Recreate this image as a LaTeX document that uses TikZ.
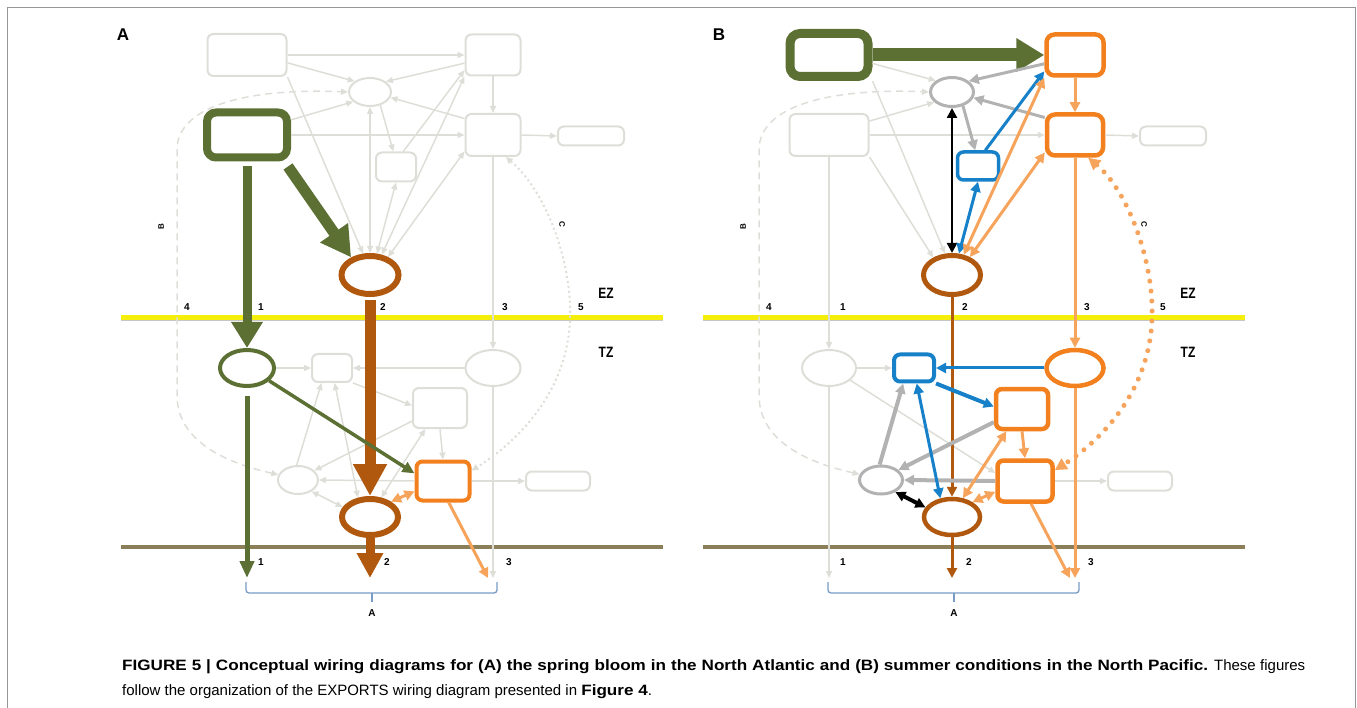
\documentclass[tikz,border=0pt]{standalone}
\usepackage{graphicx}
\usepackage{fontspec}
\setmainfont{Liberation Sans}
\newfontfamily\capfont{Liberation Sans}[BoldFeatures={FakeStretch=1.14}]
\usetikzlibrary{arrows.meta,shapes.geometric}

\definecolor{faint}{RGB}{222,222,216}
\definecolor{midgray}{RGB}{178,178,178}
\definecolor{olivegreen}{RGB}{92,112,52}
\definecolor{rust}{RGB}{176,88,14}
\definecolor{tangerine}{RGB}{242,128,30}
\definecolor{peach}{RGB}{246,163,92}
\definecolor{sky}{RGB}{22,128,200}
\definecolor{sun}{RGB}{244,238,10}
\definecolor{mud}{RGB}{138,127,88}
\definecolor{bracec}{RGB}{120,155,200}
\definecolor{framec}{RGB}{150,150,150}

\newcommand{\narrow}[1]{\scalebox{0.8}[1]{#1}}

\tikzset{
  cell/.style={rectangle, draw=faint, line width=2pt, rounded corners=6pt, inner sep=0pt},
  pool/.style={ellipse, draw=faint, line width=2pt, inner sep=0pt},
  dims/.style 2 args={minimum width=#1, minimum height=#2},
  wire/.style={faint, line width=1.5pt, -{Triangle[length=7pt,width=6pt]}},
  wires/.style={faint, line width=1.5pt, {Triangle[length=7pt,width=6pt]}-{Triangle[length=7pt,width=6pt]}},
  flow/.style={line width=3pt, -{Triangle[length=10pt,width=10pt]}},
  flows/.style={line width=3pt, {Triangle[length=10pt,width=10pt]}-{Triangle[length=10pt,width=10pt]}},
  zone/.style={font=\fontsize{15}{15}\selectfont\bfseries},
  num/.style={font=\fontsize{10}{10}\selectfont\bfseries},
  lbl/.style={font=\fontsize{8}{8}\selectfont\bfseries},
}

\begin{document}
\begin{tikzpicture}[x=1pt,y=-1pt]
\useasboundingbox (0,0) rectangle (1357,708);
\draw[framec, line width=1pt] (7,708) -- (7,8) -- (1355,8) -- (1355,708);

% horizons, numbers and brace, same in both panels
\foreach \p/\dx in {a/0,b/582}{
  \begin{scope}[shift={(\dx,0)}]
    \draw[gray!45, line width=1pt] (121,321) -- (663,321);
    \draw[sun, line width=5pt] (121,318) -- (663,318);
    \draw[mud, line width=4pt] (121,547) -- (663,547);
    \node[zone] (\p-ez) at (606,293) {\narrow{EZ}};
    \node[zone] (\p-tz) at (606,352) {\narrow{TZ}};
    \foreach \n/\x in {4/187,1/261,2/383,3/505,5/581}
      \node[num] (\p-t\n) at (\x,307) {\n};
    \foreach \n/\x in {1/261,2/387,3/509}
      \node[num] (\p-s\n) at (\x,562) {\n};
    \draw[bracec, line width=1.3pt, rounded corners=3pt] (246,582) |- (497,593) -- (497,582);
    \draw[bracec, line width=1.3pt] (372,593) -- (372,602);
    \node[num] (\p-sink) at (372,613) {A};
    \node[lbl, rotate=90] (\p-lblB) at (161,227) {B};
    \node[lbl, rotate=-90] (\p-lblC) at (562,224) {C};
  \end{scope}
}

\node[font=\fontsize{17}{17}\selectfont\bfseries] (panelA) at (123,35) {A};
\node[font=\fontsize{17}{17}\selectfont\bfseries] (panelB) at (719,35) {B};

% panel A: spring bloom
\node[cell, dims={79pt}{42pt}] (a-tl) at (247,55) {};
\node[cell, dims={55pt}{41pt}] (a-tr) at (493,55) {};
\node[pool, dims={42pt}{28pt}] (a-eu) at (370,92) {};
\node[cell, draw=olivegreen, line width=8pt, rounded corners=9pt, dims={80pt}{45pt}] (a-ml) at (247,135) {};
\node[cell, dims={55pt}{42pt}] (a-mr) at (493,135) {};
\node[cell, dims={66pt}{19pt}] (a-fr) at (591,136) {};
\node[cell, dims={40pt}{29pt}] (a-sm) at (396,167) {};
\node[pool, draw=rust, line width=6pt, dims={57pt}{38pt}] (a-pe) at (370,275) {};
\node[pool, draw=olivegreen, line width=4pt, dims={54pt}{36pt}] (a-le) at (247,368) {};
\node[cell, dims={40pt}{28pt}] (a-lb) at (332,368) {};
\node[pool, dims={55pt}{36pt}] (a-re) at (493,368) {};
\node[cell, dims={54pt}{40pt}] (a-cb) at (440,408) {};
\node[pool, dims={40pt}{28pt}] (a-ge) at (298,480) {};
\node[cell, draw=tangerine, line width=4pt, dims={53pt}{39pt}] (a-ob) at (443,481) {};
\node[cell, dims={64pt}{19pt}] (a-rb) at (558,481) {};
\node[pool, draw=rust, line width=6pt, dims={56pt}{36pt}] (a-de) at (370,517) {};
\coordinate (a-x1) at (247,578);
\coordinate (a-x2) at (370,578);
\coordinate (a-x3) at (493,578);

\draw[wire] (a-tl.east) -- (a-tr.west);
\draw[wire] (a-tl.-11) -- (a-eu.145);
\draw[wire] (a-tl.south east) -- (a-pe.108);
\draw[wire] (a-tr.196) -- (a-eu.33);
\draw[wire] (a-tr.south) -- (a-mr.north);
\draw[wire] (a-mr.150) -- (a-eu.-15);
\draw[wire] (a-ml.19) -- (a-eu.210);
\draw[wire] (a-ml.east) -- (a-mr.west);
\draw[wire] (a-mr.east) -- (a-fr.west);
\draw[wire] (a-eu.-52) -- (a-sm.100);
\draw[wire] (a-sm.65) -- (a-tr.208);
\draw[wires] (a-eu.south) -- (a-pe.north);
\draw[wires] (a-pe.72) -- (a-sm.south);
\draw[wires] (a-pe.60) -- (a-tr.south west);
\draw[wires] (a-pe.45) -- (a-mr.210);
\draw[wire] (a-mr.south) -- (a-re.north);
\draw[wire] (a-le.east) -- (a-lb.west);
\draw[wire] (a-re.west) -- (a-lb.east);
\draw[wire] (a-lb.south east) -- (a-cb.175);
\draw[wire] (a-cb.205) -- (a-ge.30);
\draw[wire] (a-ge.95) -- (a-lb.235);
\draw[wires] (a-lb.280) -- (a-de.122);
\draw[wires] (a-de.60) -- (a-cb.235);
\draw[wire] (a-cb.south) -- (a-ob.north);
\draw[wire] (a-ob.west) -- (a-ge.east);
\draw[wire] (a-ob.east) -- (a-rb.west);
\draw[wires] (a-ge.-40) -- (a-de.160);
\draw[wire] (a-re.south) -- (a-x3);
\draw[wires, dash pattern=on 7pt off 5pt] (a-ge.165) .. controls (205,458) and (177,430) .. (177,395)
  -- (177,150) .. controls (177,105) and (250,88) .. (a-eu.west);
\draw[wires, line width=2pt, dash pattern=on 2pt off 3pt] (a-mr.-60) .. controls (545,190) and (572,260) .. (570,318)
  .. controls (568,390) and (520,440) .. (a-ob.20);

\draw[olivegreen, line width=11pt, -{Triangle[length=30pt,width=32pt]}] ([xshift=-3pt,yshift=-5pt]a-ml.south east) -- (a-pe.137);
\draw[olivegreen, line width=9pt, -{Triangle[length=26pt,width=30pt]}] ([yshift=-5pt]a-ml.south) -- (a-le.north);
\draw[rust, line width=11pt, -{Triangle[length=32pt,width=32pt]}] ([yshift=-3pt]a-pe.south) -- (a-de.north);
\draw[rust, line width=9pt, -{Triangle[length=25pt,width=25pt]}] (a-de.south) -- (a-x2);
\draw[olivegreen, line width=3.5pt, -{Triangle[length=12pt,width=11pt]}] (a-le.-30) -- (a-ob.165);
\draw[olivegreen, line width=5pt, -{Triangle[length=17pt,width=14pt]}] ([yshift=-8pt]a-le.south) -- (a-x1);
\draw[peach, flows] (a-ob.200) -- (a-de.36);
\draw[peach, flow] (a-ob.-75) -- ([xshift=-5pt]a-x3);

% panel B: summer North Pacific
\begin{scope}[shift={(582,0)}]
\node[cell, draw=olivegreen, line width=9pt, rounded corners=10pt, dims={78pt}{43pt}] (b-tl) at (247,55) {};
\node[cell, draw=tangerine, line width=4.5pt, rounded corners=8pt, dims={57pt}{41pt}] (b-tr) at (493,55) {};
\node[pool, draw=midgray, line width=3pt, dims={43pt}{29pt}] (b-eu) at (370,92) {};
\node[cell, dims={79pt}{42pt}] (b-ml) at (247,135) {};
\node[cell, draw=tangerine, line width=4.5pt, rounded corners=8pt, dims={56pt}{41pt}] (b-mr) at (493,135) {};
\node[cell, dims={66pt}{19pt}] (b-fr) at (591,136) {};
\node[cell, draw=sky, line width=3.5pt, dims={41pt}{28pt}] (b-sm) at (396,166) {};
\node[pool, draw=rust, line width=5pt, dims={57pt}{39pt}] (b-pe) at (370,275) {};
\node[pool, dims={54pt}{36pt}] (b-le) at (247,368) {};
\node[cell, draw=sky, line width=4pt, dims={40pt}{27pt}] (b-lb) at (332,368) {};
\node[pool, draw=tangerine, line width=4.5pt, dims={57pt}{36pt}] (b-re) at (493,368) {};
\node[cell, draw=tangerine, line width=4.5pt, dims={52pt}{40pt}] (b-cb) at (440,409) {};
\node[pool, draw=midgray, line width=3pt, dims={43pt}{28pt}] (b-ge) at (299,480) {};
\node[cell, draw=tangerine, line width=4.5pt, dims={55pt}{41pt}] (b-ob) at (443,481) {};
\node[cell, dims={64pt}{19pt}] (b-rb) at (558,481) {};
\node[pool, draw=rust, line width=4.5pt, dims={56pt}{36pt}] (b-de) at (370,517) {};
\coordinate (b-x1) at (247,578);
\coordinate (b-x2) at (370,578);
\coordinate (b-x3) at (493,578);

\draw[wire] (b-tl.-11) -- (b-eu.145);
\draw[wire] (b-tl.south east) -- (b-pe.108);
\draw[wire] (b-ml.19) -- (b-eu.210);
\draw[wire] (b-ml.east) -- (b-mr.west);
\draw[wire] (b-mr.east) -- (b-fr.west);
\draw[wire] (b-ml.south east) -- (b-pe.137);
\draw[wire] (b-ml.south) -- (b-le.north);
\draw[wire] (b-le.east) -- (b-lb.west);
\draw[wire] (b-le.-30) -- (b-ob.165);
\draw[wire] (b-le.south) -- (b-x1);
\draw[wire] (b-ob.east) -- (b-rb.west);
\draw[wires, dash pattern=on 7pt off 5pt] (b-ge.165) .. controls (205,458) and (177,430) .. (177,395)
  -- (177,150) .. controls (177,105) and (250,88) .. (b-eu.west);

\draw[olivegreen, line width=13pt, -{Triangle[length=28pt,width=32pt]}] (b-tl.east) -- (b-tr.west);
\draw[midgray, flow] (b-tr.196) -- (b-eu.33);
\draw[midgray, flow] (b-mr.150) -- (b-eu.-15);
\draw[midgray, flow] (b-eu.-52) -- (b-sm.100);
\draw[peach, flow] (b-tr.south) -- (b-mr.north);
\draw[sky, flow] (b-sm.65) -- (b-tr.208);
\draw[black, flows, line width=2.5pt] (b-eu.south) -- (b-pe.north);
\draw[sky, flows] (b-pe.72) -- (b-sm.south);
\draw[peach, flows] (b-pe.60) -- (b-tr.south west);
\draw[peach, flows] (b-pe.45) -- (b-mr.210);
\draw[peach, flow] (b-mr.south) -- (b-re.north);
\draw[rust, flow] (b-pe.south) -- (b-de.north);
\draw[peach, line width=5pt, line cap=round, dash pattern=on 0pt off 10pt,
  {Triangle[length=12pt,width=12pt]}-{Triangle[length=12pt,width=12pt]}]
  (b-mr.-60) .. controls (545,190) and (572,260) .. (570,318)
  .. controls (568,390) and (520,440) .. (b-ob.20);

\draw[sky, flow] (b-re.west) -- (b-lb.east);
\draw[sky, flow, line width=4pt] (b-lb.south east) -- (b-cb.175);
\draw[midgray, flow, line width=4pt] (b-cb.205) -- (b-ge.30);
\draw[midgray, flow, line width=4pt] (b-ge.95) -- (b-lb.235);
\draw[midgray, flow, line width=4pt] (b-ob.west) -- (b-ge.east);
\draw[sky, flows] (b-lb.280) -- (b-de.122);
\draw[peach, flows] (b-de.60) -- (b-cb.235);
\draw[peach, flow] (b-cb.south) -- (b-ob.north);
\draw[peach, flows] (b-ob.200) -- (b-de.36);
\draw[black, flows, line width=4pt] (b-ge.-40) -- (b-de.160);
\draw[rust, flow] (b-de.south) -- (b-x2);
\draw[peach, flow] (b-ob.-75) -- ([xshift=-5pt]b-x3);
\draw[peach, flow] (b-re.south) -- (b-x3);
\end{scope}

\node[anchor=base west, align=left, inner sep=0pt, font=\capfont\fontsize{15}{25}\selectfont] (caption) at (122,695)
  {\makebox[1183pt][s]{\textbf{FIGURE 5 | Conceptual wiring diagrams for (A) the spring bloom in the North Atlantic and (B) summer conditions in the North Pacific.} These figures}\\
   follow the organization of the EXPORTS wiring diagram presented in \textbf{Figure 4}.};
\end{tikzpicture}
\end{document}
